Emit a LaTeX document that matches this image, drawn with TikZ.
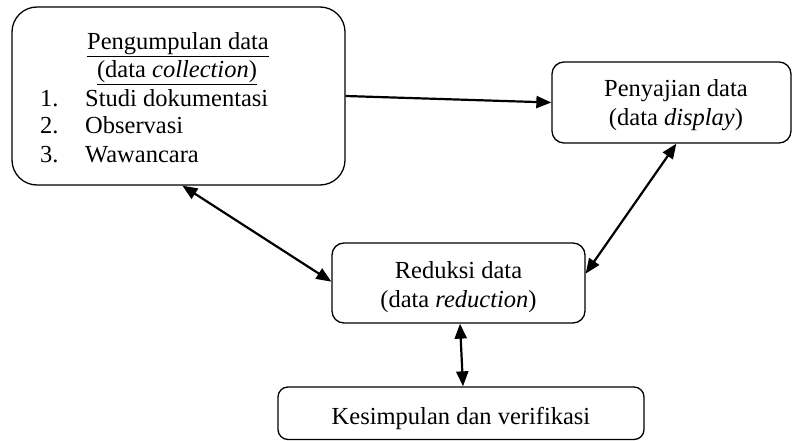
\documentclass[tikz,border=0pt]{standalone}
\usepackage{fontspec}
\setmainfont{Liberation Serif}
\usetikzlibrary{arrows.meta}
\begin{document}
\begin{tikzpicture}[x=1pt,y=1pt,
  box/.style={draw, line width=1.3pt, rounded corners=#1, inner sep=0pt},
  box/.default=12pt,
  txt/.style={anchor=base, inner sep=0pt, font=\fontsize{24.5}{28}\selectfont},
  txtl/.style={txt, anchor=base west},
  link/.style={line width=2.2pt, -{Triangle[length=15pt,width=12pt]}},
  dlink/.style={line width=2.2pt, {Triangle[length=15pt,width=12pt]}-{Triangle[length=15pt,width=12pt]}}]
\useasboundingbox (0,0) rectangle (792,440);
% boxes
\node[box=25pt, minimum width=333pt, minimum height=178pt] (b1) at (178.5,344) {};
\node[box, minimum width=239pt, minimum height=81pt] (b2) at (671.5,337.5) {};
\node[box, minimum width=253pt, minimum height=80pt] (b3) at (458.5,157) {};
\node[box=10pt, minimum width=366pt, minimum height=52.5pt] (b4) at (461,26.75) {};
% texts of box 1
\node[txt] (t1a) at (178,390) {\underline{Pengumpulan data}};
\node[txt] (t1b) at (177,362) {\underline{(data \textit{collection})}};
\node[txtl] (n1) at (40,334) {1.};
\node[txtl] (s1) at (85,334) {Studi dokumentasi};
\node[txtl] (n2) at (40,306) {2.};
\node[txtl] (s2) at (85,306) {Observasi};
\node[txtl] (n3) at (40,278) {3.};
\node[txtl] (s3) at (85,278) {Wawancara};
% box 2
\node[txt] (t2a) at (676,343) {Penyajian data};
\node[txt] (t2b) at (676,315) {(data \textit{display})};
% box 3
\node[txt] (t3a) at (458.5,162) {Reduksi data};
\node[txt] (t3b) at (458.5,133) {(data \textit{reduction})};
% box 4
\node[txt] (t4) at (461,16) {Kesimpulan dan verifikasi};
% connectors
\draw[link] (b1.east) -- (b2.west);
\draw[dlink] ([xshift=171pt]b1.south west) -- ([yshift=42pt]b3.south west);
\draw[dlink] ([xshift=125pt]b2.south west) -- ([yshift=50pt]b3.south east);
\draw[dlink] ([xshift=1.5pt]b3.south) -- ([xshift=2pt]b4.north);
\end{tikzpicture}
\end{document}
